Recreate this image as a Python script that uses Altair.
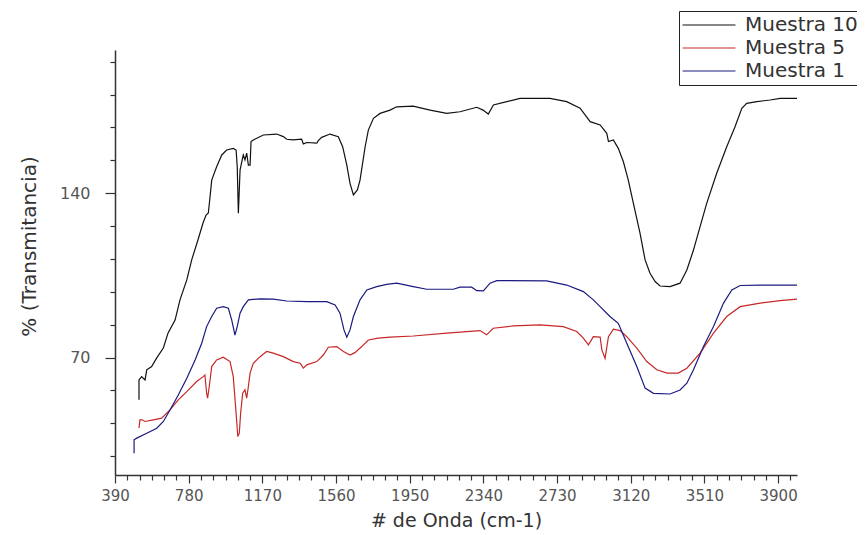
import altair as alt
import pandas as pd

# ---------------- data ----------------
series_names = ["Muestra 10", "Muestra 5", "Muestra 1"]
series_colors = ["#111111", "#c62828", "#1a1a80"]

x_ticks = list(range(390, 4000, 65))          # major every 390, minor every 65
y_ticks = list(range(28, 201, 14))            # major every 70, minor every 14

wn_m10 = [517, 517, 531, 549, 558, 584, 611, 646, 671, 708, 734, 770, 796, 829, 856, 872, 884, 893, 902, 928,
          955, 981, 1016, 1031, 1037, 1043, 1052, 1061, 1069, 1078, 1087, 1096, 1105, 1110, 1122, 1175, 1246,
          1281, 1299, 1332, 1378, 1387, 1405, 1458, 1466, 1484, 1528, 1572, 1595, 1617, 1634, 1652, 1673, 1687,
          1714, 1731, 1758, 1793, 1846, 1881, 1968, 2058, 2146, 2216, 2305, 2338, 2366, 2393, 2464, 2534, 2693,
          2781, 2852, 2905, 2958, 2993, 3002, 3028, 3054, 3081, 3107, 3134, 3169, 3196, 3222, 3249, 3275, 3328,
          3381, 3417, 3452, 3487, 3522, 3575, 3628, 3672, 3708, 3734, 3787, 3858, 3911, 4000]
t_m10 = [52.0, 60.5, 61.9, 60.5, 64.8, 66.2, 69.9, 74.1, 80.5, 86.0, 94.6, 103.1, 111.6, 120.1, 127.3, 130.7,
         131.6, 138.4, 145.6, 151.3, 156.3, 158.4, 159.1, 158.4, 151.3, 131.5, 149.9, 153.4, 156.3, 154.2, 157.1,
         152.0, 152.0, 162.0, 162.7, 164.8, 165.2, 164.1, 163.0, 162.7, 163.0, 161.0, 161.6, 161.3, 162.4, 163.8,
         165.2, 164.1, 159.8, 152.0, 144.2, 139.3, 141.4, 145.6, 159.8, 166.9, 171.9, 174.0, 175.4, 176.8, 177.1,
         175.4, 174.0, 174.7, 176.6, 175.4, 173.7, 177.6, 179.0, 180.4, 180.4, 179.0, 176.2, 170.5, 169.1, 165.5,
         162.0, 162.7, 159.1, 153.4, 145.6, 135.7, 123.0, 111.6, 105.9, 102.4, 100.5, 100.2, 101.7, 107.3, 115.8,
         125.8, 135.7, 148.5, 159.8, 168.3, 176.2, 178.3, 179.0, 179.7, 180.4, 180.4]

wn_m5 = [517, 522, 533, 549, 593, 637, 681, 725, 770, 822, 857, 866, 875, 880, 889, 902, 928, 963, 999, 1016,
         1031, 1040, 1048, 1055, 1066, 1078, 1087, 1096, 1105, 1122, 1158, 1193, 1228, 1281, 1334, 1370, 1387,
         1405, 1458, 1493, 1519, 1564, 1599, 1634, 1660, 1696, 1731, 1784, 1846, 1969, 2146, 2322, 2357, 2392,
         2498, 2640, 2763, 2834, 2869, 2896, 2922, 2958, 2967, 2984, 3002, 3028, 3064, 3099, 3152, 3205, 3258,
         3312, 3372, 3417, 3487, 3558, 3628, 3699, 3805, 3911, 4000]
t_m5 = [40.0, 43.5, 43.5, 42.8, 43.5, 44.2, 47.7, 52.0, 55.5, 59.8, 61.9, 62.6, 54.8, 52.7, 57.7, 66.2, 69.0,
        70.2, 68.3, 61.9, 46.3, 36.4, 37.8, 46.3, 54.8, 56.3, 52.7, 57.7, 63.4, 67.6, 70.4, 72.6, 71.9, 70.4,
        68.3, 67.6, 65.5, 66.9, 68.3, 71.1, 74.4, 74.7, 72.6, 71.1, 72.1, 74.7, 77.5, 78.3, 78.7, 79.2, 80.4,
        81.5, 79.7, 82.5, 83.5, 83.9, 83.2, 81.1, 78.3, 75.4, 78.9, 78.7, 73.3, 69.7, 78.9, 82.1, 81.5, 78.9,
        74.0, 68.3, 64.8, 63.4, 63.4, 65.5, 71.9, 80.4, 87.5, 91.7, 93.2, 94.3, 94.9]

wn_m1 = [491, 491, 505, 558, 611, 646, 681, 725, 770, 814, 849, 875, 902, 928, 963, 990, 1008, 1025, 1037, 1052,
         1069, 1096, 1158, 1228, 1299, 1405, 1511, 1555, 1581, 1602, 1617, 1634, 1652, 1687, 1723, 1775, 1828,
         1881, 1969, 2040, 2181, 2216, 2278, 2305, 2340, 2375, 2411, 2675, 2781, 2869, 2922, 2958, 3010, 3054,
         3099, 3152, 3196, 3240, 3328, 3381, 3417, 3452, 3505, 3558, 3611, 3655, 3699, 3805, 4000]
t_m1 = [29.3, 35.0, 35.7, 37.8, 39.9, 42.8, 47.7, 54.1, 61.2, 69.0, 76.1, 83.2, 87.5, 91.0, 91.7, 91.0, 86.0,
        79.6, 83.2, 88.9, 91.7, 94.6, 95.0, 94.9, 94.1, 93.8, 93.8, 92.4, 88.9, 81.8, 78.7, 81.8, 87.5, 94.6,
        98.8, 100.2, 101.2, 101.7, 100.2, 99.1, 99.1, 100.0, 100.0, 98.5, 98.4, 101.7, 102.8, 102.7, 100.9, 98.1,
        94.6, 91.7, 87.5, 84.6, 76.1, 66.2, 57.0, 54.8, 54.5, 56.2, 59.1, 64.8, 74.7, 83.2, 93.2, 98.8, 100.7,
        100.9, 100.9]

# ---------------- build table ----------------
rows = []
for name, wn, tr in [("Muestra 10", wn_m10, t_m10), ("Muestra 5", wn_m5, t_m5), ("Muestra 1", wn_m1, t_m1)]:
    for i, (a, b) in enumerate(zip(wn, tr)):
        rows.append({"serie": name, "onda": a, "trans": b, "i": i})
df = pd.DataFrame(rows)

x_scale = alt.Scale(domain=[390, 4000], nice=False, zero=False)
y_scale = alt.Scale(domain=[20, 201], nice=False, zero=False)

FONT = "DejaVu Sans"
x_major_test = "(datum.value - 390) % 390 === 0"
y_major_test = "datum.value % 70 === 0"

chart = alt.Chart(df).mark_line(strokeWidth=1.2).encode(
    x=alt.X("onda:Q", scale=x_scale, axis=alt.Axis(
        values=x_ticks, format="d", title="# de Onda (cm-1)", grid=False,
        labelExpr=f"{x_major_test} ? datum.label : ''",
        titleFont=FONT, titleFontSize=19, titleFontWeight="normal", titleColor="#333",
        titleY=45, titleBaseline="middle",
        labelFont=FONT, labelFontSize=15, labelColor="#555", labelPadding=5,
        labelFlush=False, labelOverlap=False, labelBound=False,
        tickSize={"condition": {"test": x_major_test, "value": 8}, "value": 5},
        tickWidth=1.2, tickColor="#333", domainColor="#333", domainWidth=1.5)),
    y=alt.Y("trans:Q", scale=y_scale, axis=alt.Axis(
        values=y_ticks, format="d", title="% (Transmitancia)", grid=False,
        labelExpr=f"{y_major_test} ? datum.label : ''",
        titleFont=FONT, titleFontSize=20, titleFontWeight="normal", titleColor="#333",
        titleX=-86, titleY=196, titleBaseline="middle", titleAlign="center",
        labelFont=FONT, labelFontSize=16, labelColor="#555", labelPadding=15,
        labelOverlap=False, labelBound=False,
        tickSize={"condition": {"test": y_major_test, "value": 10}, "value": 5},
        tickWidth=1.2, tickColor="#333", domainColor="#333", domainWidth=1.5)),
    color=alt.Color("serie:N", scale=alt.Scale(domain=series_names, range=series_colors),
                    legend=alt.Legend(
                        title=None, orient="none", legendX=564, legendY=-39, direction="vertical",
                        strokeColor="#222", fillColor="white", padding=4, cornerRadius=0,
                        symbolType="M-5,0L5,0", symbolSize=112, symbolStrokeWidth=1.2,
                        symbolOffset=16, labelOffset=26,
                        labelFont=FONT, labelFontSize=20, labelColor="#333",
                        rowPadding=3, labelLimit=300)),
    order="i:Q",
).properties(
    width=682, height=425,
    padding={"left": 107, "top": 42, "right": 60, "bottom": 62},
    autosize=alt.AutoSizeParams(type="none"),
).configure(background="white").configure_view(stroke=None)

chart.save("out.html", embed_options={"renderer": "svg", "actions": False})
